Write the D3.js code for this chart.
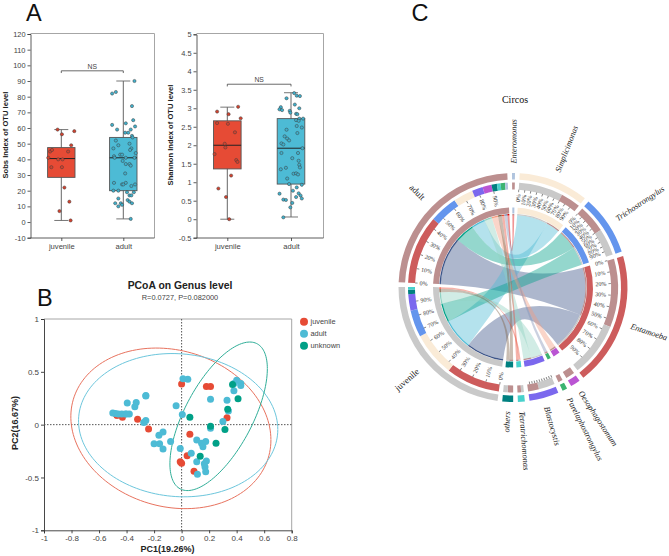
<!DOCTYPE html>
<html><head><meta charset="utf-8">
<script src="https://cdn.jsdelivr.net/npm/d3@7/dist/d3.min.js"></script>
<style>html,body{margin:0;padding:0;background:#fff}svg{display:block}</style>
</head><body><svg id="c" width="669" height="556" font-family="Liberation Sans"></svg>
<script>
// ---------- Panel A data ----------
const boxCategories = ["juvenile","adult"];
const sobsTicks = [-10,0,10,20,30,40,50,60,70,80,90,100,110,120];
const shannonTicks = [-0.5,0,0.5,1,1.5,2,2.5,3,3.5,4,4.5,5];
// [low whisker, q1, median, q3, high whisker]
const sobsJuvenileBox = [1,28.5,40.5,47.5,59];
const sobsAdultBox = [2,20,41,54,90];
const shannonJuvenileBox = [0,1.36,2,2.66,3.03];
const shannonAdultBox = [0.06,0.95,1.92,2.72,3.42];
const sobsJuvenileValues = [59,56,58,49,45,46,45,41,40,40,35,35,22,13,7,1];
const sobsJuvenileJitter = [-.06,.01,.21,.16,-.18,-.15,.11,-.21,-.05,.02,-.16,.01,.05,.13,-.03,.15];
const sobsAdultValues = [90,83,82,74,65,62,61,63,59,59,57,57,55,54,52,50,49,47,47,46,44,43,43,42,41,41,41,39,37,37,36,31,25,25,24,24,24,23,20,20,19,19,17,17,15,14,13,12,12,12,11,10,2];
const sobsAdultJitter = [.18,-.12,-.18,.14,.16,-.18,.19,.04,-.10,.12,.03,.08,.14,.15,-.12,.10,-.08,-.16,.13,.11,.20,-.05,-.02,-.15,-.14,.04,.18,-.01,.04,.10,.12,.03,-.15,.04,-.02,0,.19,.13,-.16,-.08,.06,.17,.10,.13,-.08,.07,.10,.14,-.13,-.04,-.02,-.08,.12];
const shannonJuvenileValues = [2.91,3.04,2.84,2.73,2.6,2.58,2.35,2.04,1.94,1.76,1.6,1.55,1.18,.83,.6,0];
const shannonJuvenileJitter = [-.16,.17,.02,.21,-.16,.01,.12,-.04,-.03,-.2,.14,.16,.06,-.14,-.02,.03];
const shannonAdultValues = [3.41,3.34,3.33,3.27,3.1,3.03,3,2.97,2.95,2.93,2.88,2.85,2.84,2.72,2.72,2.68,2.66,2.52,2.48,2.42,2.33,2.24,2.18,2.13,2.05,2.02,1.92,1.79,1.79,1.65,1.58,1.47,1.4,1.39,1.35,1.23,1.24,1.21,1.1,.95,.93,.86,.77,.7,.69,.64,.6,.56,.53,.52,.44,.32,.05];
const shannonAdultJitter = [.05,.09,.14,-.07,.06,-.16,.13,-.18,-.14,-.02,-.01,.08,.10,.19,.13,.08,.12,.09,.17,-.07,.10,-.10,-.06,-.03,-.15,-.12,.18,-.15,.11,.02,.12,.13,.14,-.08,-.16,.04,.08,.11,-.06,-.03,.17,.09,.03,.12,-.18,.15,.08,.17,-.12,-.08,.02,-.01,-.12];
const sobsBracket = 96.5, shannonBracket = 3.65;

// ---------- Panel B data ----------
const pcoaXTicks = [-1,-.8,-.6,-.4,-.2,0,.2,.4,.6,.8];
const pcoaYTicks = [-1,-.5,0,.5,1];
const pcoaGroups = ["juvenile","adult","unknown"];
const pc1Juvenile = [0,.18,.21,-.32,-.24,-.47,-.43,.33,.06,.04,-.01,0,.09,-.47];
const pc2Juvenile = [.385,.36,.36,.05,-.04,.09,.07,.065,-.09,-.295,-.35,-.365,-.44,.09];
const pc1Adult = [-.5,-.48,-.46,-.435,-.41,-.38,-.4,-.34,-.33,-.26,-.26,-.395,-.26,-.275,-.165,-.135,-.2,-.16,-.135,-.08,-.04,.005,.01,.045,.21,.33,.34,.3,.21,.38,.4,.43,.38,.43,-.01,.07,.11,.145,.155,.175,.11,.18,.17,.175,.115,.165];
const pc2Adult = [.11,.105,.10,.10,.1,.1,.1,.17,.21,.27,.275,.205,.04,.02,-.1,-.07,-.18,-.18,-.23,-.16,.18,.095,.435,.43,.24,.23,.13,.03,-.035,.32,.42,.39,.39,.37,-.225,-.27,-.145,-.175,-.21,-.16,-.35,-.345,-.4,-.445,-.47,-.37];
const pc1Unknown = [.06,.21,.315,.25,.135,.335,.37,.41];
const pc2Unknown = [.07,-.015,-.045,-.175,-.3,.145,.38,.245];
// [centre PC1, centre PC2, half width, half height, correlation]
const ellipseJuvenile = [-.078,-.035,.727,.76,-.145];
const ellipseAdult = [-.025,-.005,.724,.678,-.06];
const ellipseUnknown = [.269,.079,.354,.703,.64];

// ---------- Panel C data ----------
const genera = ["Enteromonas","Simplicimonas","Trichostrongylus","Entamoeba","Oesophagostomum","Parelaphostrongylus","Blastocystis","Tetratrichomonas","others"];
const adultShare =    [1.5,11,15.5,38,5,2.5,6,2,3];
const juvenileShare = [0,24.5,15,30,0,0,9,1.5,2.5];
const adultOrder = ["Entamoeba","Trichostrongylus","Simplicimonas","Blastocystis","Oesophagostomum","others","Tetratrichomonas","Parelaphostrongylus","Enteromonas"];
const juvenileOrder = ["Entamoeba","Simplicimonas","Trichostrongylus","Blastocystis","others","Tetratrichomonas"];
const juvenileFirst = ["Simplicimonas","Blastocystis","Tetratrichomonas"];
const tickedGroups = ["Simplicimonas","Trichostrongylus","Entamoeba","Blastocystis","juvenile","adult"];
const labelledGroups = ["Simplicimonas","Trichostrongylus","Entamoeba","juvenile","adult"];
const percentTicks = [0,10,20,30,40,50,60,70,80,90];

// ---------- styles ----------
const boxColors = {juvenile:"#E64B35",adult:"#4DBBD5",unknown:"#00A087"};
const pointFill = {juvenile:"#d2422e",adult:"#3fb0cc"};
const ringColors = {Enteromonas:"#b0c4de",Simplicimonas:"#faebd7",Trichostrongylus:"#6495ed",Entamoeba:"#cd5c5c",Oesophagostomum:"#ba55d3",Parelaphostrongylus:"#3cb371",Blastocystis:"#7b68ee",Tetratrichomonas:"#48d1cc",others:"#008080",juvenile:"#c9c9c9",adult:"#bc8f8f"};
const ribbonColors = {Entamoeba:"#3C5488",Trichostrongylus:"#00A087",Simplicimonas:"#4DBBD5",Blastocystis:"#91D1C2",Oesophagostomum:"#F39B7F",Parelaphostrongylus:"#8491B4",Tetratrichomonas:"#E64B35",others:"#7E6148",Enteromonas:"#DC0000"};

const svg = d3.select("#c");
const dark="#333", frame="#a6a6a6";
function letter(t,x,y){svg.append("text").attr("x",x).attr("y",y).attr("font-size",23.5).attr("fill","#111").text(t);}
letter("A",26,21);letter("B",37,306);letter("C",411.5,21);

// ---------- box plots ----------
function boxPanel(o){
  const g = svg.append("g");
  const x = d3.scalePoint().domain(boxCategories).range(o.xr);
  const y = d3.scaleLinear().domain(o.dom).range([o.yb,o.yt]);
  g.append("path").attr("d",`M${o.l},${o.ft}H${o.r}V${o.fb}`).attr("fill","none").attr("stroke",frame).attr("stroke-width",1);
  const ay = g.append("g").attr("transform",`translate(${o.l},0)`).call(d3.axisLeft(y).tickValues(o.ticks).tickSize(3).tickPadding(2).tickFormat(d=>String(d)));
  const ax = g.append("g").attr("transform",`translate(0,${o.fb})`).call(d3.axisBottom(x).tickSize(3).tickPadding(3));
  ax.select(".domain").attr("d",`M${o.l},0H${o.r}`);
  [ax,ay].forEach(a=>{a.selectAll(".domain,line").attr("stroke",dark).attr("stroke-width",.8);a.selectAll("text").attr("font-size",7.4).attr("fill","#444").attr("font-family","Liberation Sans");});
  ax.selectAll("text").attr("font-size",7.6);
  o.series.forEach(s=>{
    const cx=x(s.cat), [lo,q1,md,q3,hi]=s.box;
    g.append("line").attr("x1",cx).attr("x2",cx).attr("y1",y(lo)).attr("y2",y(hi)).attr("stroke","#555").attr("stroke-width",.9);
    [lo,hi].forEach(v=>g.append("line").attr("x1",cx-7).attr("x2",cx+7).attr("y1",y(v)).attr("y2",y(v)).attr("stroke","#666").attr("stroke-width",.9));
    g.append("rect").attr("x",cx-o.bw).attr("width",2*o.bw).attr("y",y(q3)).attr("height",y(q1)-y(q3)).attr("fill",boxColors[s.cat]).attr("stroke","#555").attr("stroke-width",.9);
    g.append("line").attr("x1",cx-o.bw).attr("x2",cx+o.bw).attr("y1",y(md)).attr("y2",y(md)).attr("stroke","#222").attr("stroke-width",1);
    g.selectAll(null).data(s.vals).join("circle")
      .attr("cx",(d,i)=>cx+s.jit[i]*(o.xr[1]-o.xr[0])).attr("cy",d=>y(d)).attr("r",1.6)
      .attr("fill",pointFill[s.cat]).attr("stroke","#3f3f3f").attr("stroke-width",.5);
  });
  const by=y(o.bracket);
  g.append("path").attr("d",`M${x("juvenile")},${by+2.2}V${by}H${x("adult")}V${by+2.2}`).attr("fill","none").attr("stroke","#444").attr("stroke-width",.8);
  g.append("text").attr("x",(x("juvenile")+x("adult"))/2).attr("y",by-2).attr("text-anchor","middle").attr("font-size",6.8).attr("fill","#444").text("NS");
  g.append("text").attr("transform",`translate(${o.lx},${o.lcy}) rotate(-90)`).attr("text-anchor","middle").attr("font-size",7.6).attr("font-weight","bold").attr("fill","#222").text(o.label);
}
boxPanel({l:30.5,r:154.5,ft:33.5,fb:238,yb:237.7,yt:34,dom:[-10,120],ticks:sobsTicks,xr:[61.3,123.3],bw:13.7,bracket:sobsBracket,lx:8,lcy:135,label:"Sobs Index of OTU level",
  series:[{cat:"juvenile",box:sobsJuvenileBox,vals:sobsJuvenileValues,jit:sobsJuvenileJitter},{cat:"adult",box:sobsAdultBox,vals:sobsAdultValues,jit:sobsAdultJitter}]});
boxPanel({l:196.5,r:323.5,ft:33.5,fb:238,yb:237.7,yt:34.3,dom:[-.5,5],ticks:shannonTicks,xr:[227.3,291],bw:13.8,bracket:shannonBracket,lx:173,lcy:135,label:"Shannon Index of OTU level",
  series:[{cat:"juvenile",box:shannonJuvenileBox,vals:shannonJuvenileValues,jit:shannonJuvenileJitter},{cat:"adult",box:shannonAdultBox,vals:shannonAdultValues,jit:shannonAdultJitter}]});

// ---------- PCoA ----------
(function(){
  const g=svg.append("g");
  const l=44,r=291.7,t=319,b=530.3;
  const x=d3.scaleLinear().domain([-1,.8]).range([l,r]);
  const y=d3.scaleLinear().domain([-1,1]).range([b,t]);
  g.append("path").attr("d",`M${l},${t}H${r}V${b}`).attr("fill","none").attr("stroke",frame);
  const ax=g.append("g").attr("transform",`translate(0,${b})`).call(d3.axisBottom(x).tickValues(pcoaXTicks).tickSize(3).tickPadding(2).tickFormat(d=>String(+d.toFixed(1))));
  const ay=g.append("g").attr("transform",`translate(${l},0)`).call(d3.axisLeft(y).tickValues(pcoaYTicks).tickSize(3).tickPadding(2).tickFormat(d=>String(d)));
  [ax,ay].forEach(a=>{a.selectAll(".domain,line").attr("stroke",dark).attr("stroke-width",.9);a.selectAll("text").attr("font-size",8).attr("fill","#444").attr("font-family","Liberation Sans");});
  g.append("line").attr("x1",l).attr("x2",r).attr("y1",y(0)).attr("y2",y(0)).attr("stroke","#555").attr("stroke-width",1).attr("stroke-dasharray","1.5,1.5");
  g.append("line").attr("x1",x(0)).attr("x2",x(0)).attr("y1",t).attr("y2",b).attr("stroke","#555").attr("stroke-width",1).attr("stroke-dasharray","1.5,1.5");
  const steps=d3.range(0,2*Math.PI+.01,.04);
  const line=d3.line();
  [[ellipseJuvenile,"#E8735F"],[ellipseAdult,"#6CC6DC"],[ellipseUnknown,"#2FAE98"]].forEach(([e,c])=>{
    const phi=Math.acos(e[4]);
    g.append("path").attr("d",line(steps.map(s=>[x(e[0]+e[2]*Math.cos(s)),y(e[1]+e[3]*Math.cos(s+phi))])))
     .attr("fill","none").attr("stroke",c).attr("stroke-width",1);
  });
  [[pc1Juvenile,pc2Juvenile,"juvenile"],[pc1Adult,pc2Adult,"adult"],[pc1Unknown,pc2Unknown,"unknown"]].forEach(([a,c,k])=>{
    g.selectAll(null).data(a).join("circle").attr("cx",d=>x(d)).attr("cy",(d,i)=>y(c[i])).attr("r",3.5).attr("fill",boxColors[k]);
  });
  pcoaGroups.forEach((n,i)=>{
    const ly=321.7+i*12;
    g.append("circle").attr("cx",304).attr("cy",ly).attr("r",4).attr("fill",boxColors[n]);
    g.append("text").attr("x",310.5).attr("y",ly+2.7).attr("font-size",7.4).attr("fill","#444").text(n);
  });
  g.append("text").attr("x",180).attr("y",289).attr("text-anchor","middle").attr("font-size",10.4).attr("font-weight","bold").attr("fill","#222").text("PCoA on Genus level");
  g.append("text").attr("x",180).attr("y",299.5).attr("text-anchor","middle").attr("font-size",7.4).attr("fill","#444").text("R=0.0727, P=0.082000");
  g.append("text").attr("x",167.5).attr("y",552).attr("text-anchor","middle").attr("font-size",9).attr("font-weight","bold").attr("fill","#222").text("PC1(19.26%)");
  g.append("text").attr("transform","translate(17.5,423) rotate(-90)").attr("text-anchor","middle").attr("font-size",9).attr("font-weight","bold").attr("fill","#222").text("PC2(16.67%)");
})();

// ---------- Circos ----------
(function(){
  const cx=513, cy=287.5, rad=Math.PI/180;
  const g=svg.append("g").attr("transform",`translate(${cx},${cy})`);
  svg.append("text").attr("x",cx+2).attr("y",102.5).attr("text-anchor","middle").attr("font-size",10).attr("font-family","Liberation Serif").attr("fill","#111").text("Circos");
  const names=[...genera,"juvenile","adult"];
  const shareOf=(arr,n)=>arr[genera.indexOf(n)];
  const size=names.map(n=>n==="adult"?d3.sum(adultShare):n==="juvenile"?d3.sum(juvenileShare):shareOf(adultShare,n)+shareOf(juvenileShare,n));
  const total=d3.sum(size);
  const gap=(360-total)/names.length;
  const ang=d3.scaleLinear().domain([0,total+gap*names.length]).range([-.5*rad,359.5*rad]);
  const sectors={};let pos=0;
  names.forEach((n,i)=>{sectors[n]={s:pos,e:pos+size[i]};pos+=size[i]+gap;});
  const arc=d3.arc();
  const band=(a,b,r0,r1,c)=>g.append("path").attr("d",arc({startAngle:ang(a),endAngle:ang(b),innerRadius:r0,outerRadius:r1})).attr("fill",c);
  const segs={};
  names.forEach(n=>segs[n]=[]);
  function place(n,order,val){let p=sectors[n].s;order.forEach(o=>{const v=val(o);if(v>0){segs[n].push({other:o,a:p,b:p+v});p+=v;}});}
  place("adult",adultOrder,o=>shareOf(adultShare,o));
  place("juvenile",juvenileOrder,o=>shareOf(juvenileShare,o));
  genera.forEach(n=>{
    place(n,juvenileFirst.includes(n)?["juvenile","adult"]:["adult","juvenile"],o=>shareOf(o==="adult"?adultShare:juvenileShare,n));
  });
  names.forEach(n=>{
    const s=sectors[n];
    band(s.s,s.e,108,114.5,ringColors[n]);
    band(s.s,s.e,74,80,ringColors[n]);
    segs[n].forEach(k=>band(k.a,k.b,98,105,ringColors[k.other]));
  });
  const ribbon=d3.ribbon().radius(72.5);
  const find=(n,o)=>segs[n].find(k=>k.other===o);
  ["Entamoeba","Simplicimonas","Trichostrongylus","Blastocystis","Oesophagostomum","Parelaphostrongylus","Enteromonas","others","Tetratrichomonas"].forEach(n=>{
    ["adult","juvenile"].forEach(grp=>{
      const p=find(grp,n), q=find(n,grp);
      if(!p||!q) return;
      g.append("path").attr("d",ribbon({source:{startAngle:ang(p.a),endAngle:ang(p.b)},target:{startAngle:ang(q.a),endAngle:ang(q.b)}}))
        .attr("fill",ribbonColors[n]).attr("fill-opacity",.42);
      band(p.a,p.b,72.3,73.6,ribbonColors[n]);
      band(q.a,q.b,72.3,73.6,ringColors[grp]);
    });
  });
  tickedGroups.forEach(n=>{
    const s=sectors[n];
    const sc=d3.scaleLinear().domain([0,100]).range([s.s,s.e]);
    percentTicks.forEach(p=>{
      const t=ang(sc(p)), deg=t/rad;
      g.append("line").attr("transform",`rotate(${deg})`).attr("y1",-95.5).attr("y2",-98).attr("stroke","#444").attr("stroke-width",.6);
      if(labelledGroups.includes(n)){
        const right=deg%360<180;
        g.append("text").attr("transform",`rotate(${deg-90}) translate(93.5,0)`+(right?"":" rotate(180)"))
          .attr("text-anchor",right?"end":"start").attr("dy","0.34em")
          .attr("font-size",6).attr("font-family","Liberation Serif").attr("fill","#333").text(p+"%");
      }
    });
  });
  names.forEach(n=>{
    const s=sectors[n], mid=ang((s.s+s.e)/2)/rad, nm=((mid%360)+360)%360, right=nm<180;
    const isGroup=n==="adult"||n==="juvenile";
    const r=isGroup?126:124;
    g.append("text").attr("transform",`rotate(${mid-90}) translate(${r},0)`+(right?"":" rotate(180)"))
      .attr("text-anchor",right?"start":"end").attr("dy","0.34em")
      .attr("font-size",isGroup?9:8.4).attr("font-family","Liberation Serif").attr("font-style",isGroup?"normal":"italic").attr("fill","#222").text(n);
  });
})();
</script></body></html>
